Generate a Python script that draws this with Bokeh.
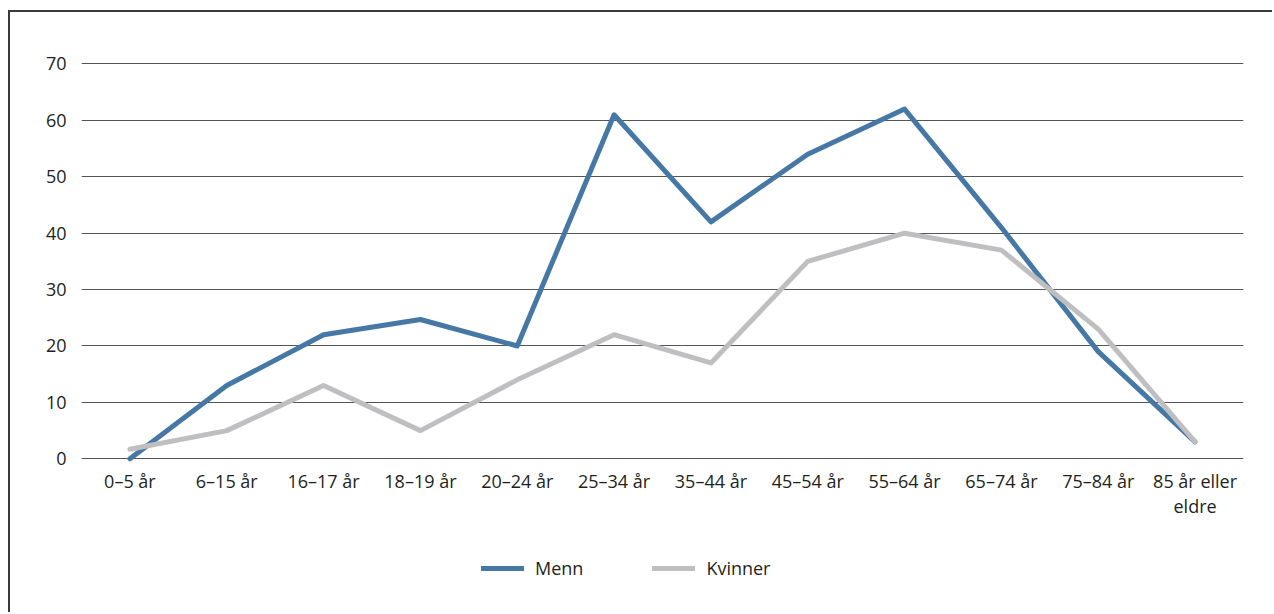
from bokeh.plotting import figure
from bokeh.models import Range1d, FactorRange, FixedTicker, Legend, LegendItem
from bokeh.embed import file_html
from bokeh.resources import INLINE
from bokeh.core.properties import value

categories = ["0–5 år", "6–15 år", "16–17 år", "18–19 år", "20–24 år", "25–34 år",
              "35–44 år", "45–54 år", "55–64 år", "65–74 år", "75–84 år", "85 år eller\neldre"]
menn = [0, 13, 22, 24.7, 20, 61, 42, 54, 62, 41, 19, 3]
kvinner = [1.7, 5, 13, 5, 14, 22, 17, 35, 40, 37, 23, 3]
y_ticks = [0, 10, 20, 30, 40, 50, 60, 70]

FONT = "Open Sans"
TXT = "#231f20"

p = figure(width=1264, height=602, output_backend="svg", toolbar_location=None,
           x_range=FactorRange(*categories, range_padding=0),
           y_range=Range1d(-27.6, 71.5),
           min_border_left=71, min_border_right=31, min_border_top=43, min_border_bottom=0)
p.styles = {"border-left": "2px solid #3a3a3a", "border-top": "2px solid #3a3a3a",
            "margin-left": "8px", "margin-top": "10px"}
p.outline_line_color = None
p.background_fill_color = "white"
p.border_fill_color = "white"

p.xgrid.grid_line_color = None
p.ygrid.grid_line_color = "#555555"
p.ygrid.grid_line_width = 1
p.yaxis.ticker = FixedTicker(ticks=y_ticks)
p.yaxis.axis_line_color = None
p.yaxis.major_tick_line_color = None
p.yaxis.minor_tick_line_color = None
p.yaxis.major_label_standoff = 9
p.yaxis.major_label_text_font = FONT
p.yaxis.major_label_text_font_size = "18px"
p.yaxis.major_label_text_color = TXT
p.xaxis.visible = False

# category labels under the zero line
p.text(x=categories, y=[0] * len(categories), text=categories,
       text_font=value(FONT), text_font_size="18px", text_color=TXT,
       text_align="center", text_baseline="top", y_offset=10, text_line_height=1.03)

r1 = p.line(categories, menn, line_color="#4678a5", line_width=5, line_cap="round", line_join="round")
r2 = p.line(categories, kvinner, line_color="#bfbfc2", line_width=5, line_cap="round", line_join="round")

legend = Legend(items=[LegendItem(label="Menn", renderers=[r1]),
                       LegendItem(label="Kvinner", renderers=[r2])],
                orientation="horizontal", location=(400, 34),
                padding=0, margin=0, spacing=69, label_standoff=11,
                glyph_width=43, glyph_height=24, label_height=24,
                label_text_font=FONT, label_text_font_size="18px", label_text_color=TXT,
                border_line_color=None, background_fill_alpha=0)
p.add_layout(legend, "center")

open("out.html", "w").write(file_html(p, INLINE))
